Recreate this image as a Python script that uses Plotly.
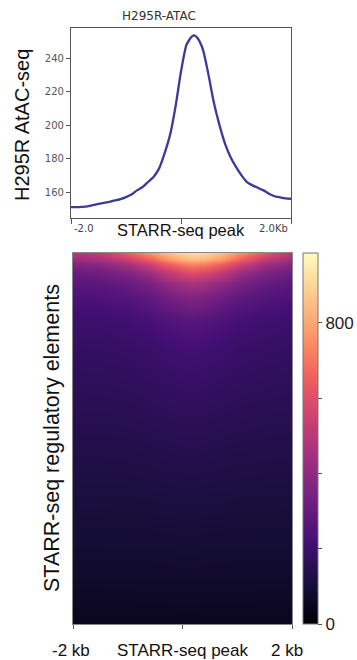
import plotly.graph_objects as go

# ---------------- data ----------------
# Top profile: mean ATAC signal vs distance from STARR-seq peak (bp)
profile_pos = [-2000, -1900, -1800, -1700, -1600, -1500, -1400, -1300, -1200, -1100,
               -1000, -900, -800, -700, -600, -500, -400, -300, -200, -100,
               0, 100, 200, 250, 300, 400, 500, 600, 700, 800,
               900, 1000, 1100, 1200, 1300, 1400, 1500, 1600, 1700, 1800, 1900, 2000]
profile_val = [151, 151, 151.2, 151.5, 152.2, 153, 153.6, 154.2, 155, 155.8,
               157, 158.5, 161, 163, 166, 169, 174, 183, 194, 211,
               232, 248, 253, 253.5, 252, 245, 230, 213, 200, 189,
               181, 175, 170, 166, 164, 162.5, 161, 159, 157.5, 156.8, 156.2, 156]

# Heatmap: regions sorted by signal (rank in %), columns = distance (bp)
hm_cols = [-2000, -1500, -1000, -600, -300, 0, 200, 400, 700, 1000, 1500, 2000]
hm_rows = [0, 1.5, 3, 5, 8, 12, 18, 26, 35, 45, 55, 65, 75, 85, 95, 100]
hm_vals = [
    [490, 530, 640, 760, 850, 900, 920, 905, 860, 770, 620, 500],
    [430, 460, 550, 660, 760, 830, 850, 835, 780, 680, 530, 440],
    [365, 385, 460, 550, 640, 710, 735, 720, 660, 570, 440, 375],
    [310, 325, 370, 440, 520, 580, 605, 590, 530, 450, 360, 318],
    [270, 277, 305, 350, 405, 450, 465, 455, 405, 355, 300, 273],
    [235, 239, 256, 283, 320, 348, 357, 348, 315, 285, 252, 237],
    [200, 202, 211, 227, 247, 261, 266, 259, 242, 224, 209, 200],
    [178, 179, 184, 193, 204, 212, 215, 211, 200, 190, 182, 178],
    [162, 163, 166, 172, 179, 184, 186, 183, 176, 170, 165, 162],
    [147, 147, 149, 153, 157, 160, 161, 159, 155, 151, 148, 147],
    [130, 130, 131, 134, 137, 139, 139, 138, 135, 133, 131, 130],
    [113, 113, 114, 116, 118, 119, 119, 118, 117, 115, 114, 113],
    [96, 96, 97, 98, 99, 100, 100, 99, 98, 97, 97, 96],
    [80, 80, 81, 81, 82, 83, 83, 82, 82, 81, 81, 80],
    [60, 60, 60, 61, 61, 62, 62, 61, 61, 61, 60, 60],
    [48, 48, 48, 49, 49, 50, 50, 49, 49, 49, 48, 48],
]

cbar_ticks = [0, 200, 400, 600, 800]
cbar_text = ["0", "", "", "", "800"]
top_yticks = [160, 180, 200, 220, 240]

W, H = 357, 660
def py(p):
    return 1 - p / H

fig = go.Figure()

fig.add_trace(go.Scatter(
    x=profile_pos, y=profile_val, mode="lines",
    line=dict(color="#3b3b98", width=2.3, shape="spline", smoothing=0.6),
    xaxis="x", yaxis="y", showlegend=False, hoverinfo="skip"))

fig.add_trace(go.Heatmap(
    x=hm_cols, y=hm_rows, z=hm_vals, colorscale="Magma", zmin=0, zmax=985,
    zsmooth="best", xaxis="x2", yaxis="y2",
    colorbar=dict(
        x=303 / W, xanchor="left", y=py(624), yanchor="bottom", xpad=0, ypad=0,
        len=(624 - 253) / H, lenmode="fraction", thickness=15,
        outlinecolor="#777", outlinewidth=1,
        tickvals=cbar_ticks, ticktext=cbar_text, ticks="outside", ticklen=4,
        tickcolor="#555", tickfont=dict(family="Liberation Sans", size=17, color="#222"),
    )))

frame = dict(showline=True, mirror=True, linecolor="#555", linewidth=1.2,
             showgrid=False, zeroline=False)

fig.update_layout(
    width=W, height=H, margin=dict(l=0, r=0, t=0, b=0, autoexpand=False),
    paper_bgcolor="white", plot_bgcolor="white",
    xaxis=dict(domain=[71 / W, 291 / W], range=[-2000, 2000], anchor="y",
               tickvals=[-2000, 0, 2000], ticks="outside", ticklen=5, tickcolor="#555",
               showticklabels=False, **frame),
    yaxis=dict(domain=[py(218), py(28)], range=[144.5, 258], anchor="x",
               tickvals=top_yticks, ticks="outside", ticklen=4, tickcolor="#555",
               tickfont=dict(family="DejaVu Sans", size=10, color="#555"), **frame),
    xaxis2=dict(domain=[73 / W, 292 / W], range=[-2000, 2000], anchor="y2",
                tickvals=[-2000, 0, 2000], ticks="outside", ticklen=4, tickcolor="#555",
                showticklabels=False, **{**frame, "linecolor": "#888", "linewidth": 1}),
    yaxis2=dict(domain=[py(624), py(253)], range=[100, 0], anchor="x2",
                showticklabels=False, ticks="", **{**frame, "linecolor": "#888", "linewidth": 1}),
)

big = dict(family="Liberation Sans", color="#111")
ann = [
    dict(text="H295R-ATAC", x=159 / W, y=py(16), xref="paper", yref="paper",
         font=dict(family="DejaVu Sans", size=12, color="#333")),
    dict(text="H295R AtAC-seq", x=22 / W, y=py(125), xref="paper", yref="paper",
         textangle=-90, font=dict(size=20, **big)),
    dict(text="-2.0", x=-2000, xref="x", y=py(229), yref="paper", xanchor="left", xshift=1,
         font=dict(family="DejaVu Sans", size=10, color="#444")),
    dict(text="2.0Kb", x=2000, xref="x", y=py(229), yref="paper", xanchor="right", xshift=-1,
         font=dict(family="DejaVu Sans", size=10, color="#444")),
    dict(text="STARR-seq peak", x=0, xref="x", y=py(230), yref="paper",
         font=dict(size=16.5, **big)),
    dict(text="STARR-seq regulatory elements", x=52 / W, y=py(438), xref="paper", yref="paper",
         textangle=-90, font=dict(size=21.5, **big)),
    dict(text="-2 kb", x=-2000, xref="x2", y=py(650), yref="paper", xshift=-2,
         font=dict(size=17, **big)),
    dict(text="STARR-seq peak", x=0, xref="x2", y=py(650), yref="paper",
         font=dict(size=17, **big)),
    dict(text="2 kb", x=2000, xref="x2", y=py(650), yref="paper", xshift=-5,
         font=dict(size=17, **big)),
]
for a in ann:
    a.setdefault("showarrow", False)
    a.setdefault("xanchor", "center")
    a.setdefault("yanchor", "middle")
fig.update_layout(annotations=ann)

fig.write_html("out.html")
